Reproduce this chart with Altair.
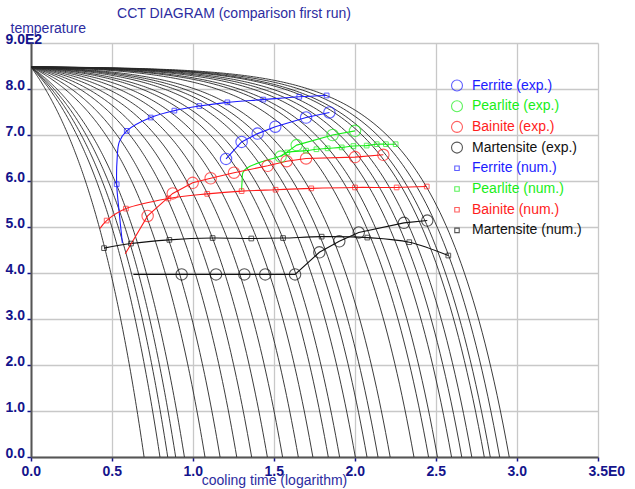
import altair as alt
import pandas as pd
import numpy as np

# ---------------- data ----------------
T_START = 848.0
# x (log cooling time) where each cooling curve reaches 0 degC
curve_end_x = [0.698, 0.796, 0.844, 0.893, 0.947, 1.074, 1.167, 1.270, 1.362, 1.459,
               1.553, 1.650, 1.740, 1.835, 1.905, 2.002, 2.074, 2.142, 2.217, 2.364,
               2.454, 2.509, 2.596, 2.659, 2.721, 2.798, 2.835, 2.893, 2.952]

# Ferrite
fer_exp_x = [1.204, 1.300, 1.399, 1.508, 1.698, 1.842]
fer_exp_t = [648, 685, 703, 718, 738, 749]
fer_num_x = [0.529, 0.591, 0.739, 0.885, 1.039, 1.212, 1.434, 1.656, 1.825]
fer_num_t = [593, 709, 738, 753, 763, 771, 777, 783, 786]
fer_line_x = [0.564, 0.545, 0.529, 0.532, 0.545, 0.591, 0.739, 0.885, 1.039, 1.212, 1.434, 1.656, 1.825]
fer_line_t = [465, 530, 593, 650, 685, 709, 738, 753, 763, 771, 777, 783, 786]

# Pearlite
per_exp_x = [1.541, 1.640, 1.862, 2.000]
per_exp_t = [653, 678, 700, 709]
per_num_x = [1.582, 1.698, 1.762, 1.831, 1.918, 1.990, 2.072, 2.134, 2.191, 2.251]
per_num_t = [662, 666, 669, 671, 673, 676, 677, 680, 680, 680]
per_line_x = [1.300, 1.303, 1.307, 1.322, 1.352, 1.434, 1.537, 1.582, 1.698, 1.762, 1.831,
              1.918, 1.990, 2.072, 2.134, 2.191, 2.251]
per_line_t = [580, 600, 617, 625, 632, 643, 654, 662, 666, 669, 671, 673, 676, 677, 680, 680, 680]

# Bainite
bai_exp_x = [0.720, 0.875, 0.998, 1.109, 1.253, 1.461, 1.578, 1.698, 2.000, 2.175]
bai_exp_t = [524, 573, 596, 606, 618, 633, 643, 649, 652, 657]
bai_exp_line_x = [0.582] + bai_exp_x
bai_exp_line_t = [442] + bai_exp_t
bai_num_x = [0.467, 0.586, 0.848, 1.088, 1.300, 1.510, 1.730, 2.000, 2.257, 2.443]
bai_num_t = [514, 540, 562, 572, 578, 581, 584, 586, 586, 588]
bai_num_line_x = [0.426] + bai_num_x
bai_num_line_t = [497] + bai_num_t

# Martensite
mar_exp_x = [0.930, 1.142, 1.317, 1.446, 1.630, 1.780, 1.903, 2.023, 2.302, 2.446]
mar_exp_t = [397, 397, 397, 397, 397, 445, 469, 488, 509, 514]
mar_exp_line_x = [0.632] + mar_exp_x
mar_exp_line_t = [397] + mar_exp_t
mar_num_x = [0.451, 0.617, 0.854, 1.121, 1.360, 1.556, 1.794, 2.076, 2.335, 2.576]
mar_num_t = [454, 464, 472, 476, 475, 476, 479, 477, 467, 438]

legend_labels = ["Ferrite (exp.)", "Pearlite (exp.)", "Bainite (exp.)", "Martensite (exp.)",
                 "Ferrite (num.)", "Pearlite (num.)", "Bainite (num.)", "Martensite (num.)"]
title_text = ["CCT DIAGRAM (comparison first run)"]

BLUE, GREEN, RED, BLACK = "#1c1cff", "#18ee18", "#ff1c1c", "#111111"
NAVY = "#14148c"
TITLE_BLUE = "#2c2ca0"
FONT = "Liberation Sans"
FS = 14

# ---------------- tables ----------------
rows = []
for i, xe in enumerate(curve_end_x):
    rate = T_START / (10 ** xe - 1.0)          # linear cooling in time, drawn on log axis
    xs = np.linspace(0, xe, 160)
    ts = T_START - rate * (10 ** xs - 1.0)
    ts[-1] = 0.0
    for k, (a, b) in enumerate(zip(xs, ts)):
        rows.append({"curve": i, "k": k, "x": float(a), "t": float(max(b, 0.0))})
curves = pd.DataFrame(rows)


def line_df(name, xs, ts):
    return pd.DataFrame({"s": name, "k": range(len(xs)), "x": xs, "t": ts})


lines_smooth = pd.concat([
    line_df("fer_num", fer_line_x, fer_line_t),
    line_df("per_num", per_line_x, per_line_t),
    line_df("bai_num", bai_num_line_x, bai_num_line_t),
    line_df("mar_num", mar_num_x, mar_num_t),
])
lines_straight = pd.concat([
    line_df("fer_exp", fer_exp_x, fer_exp_t),
    line_df("per_exp", per_exp_x, per_exp_t),
    line_df("bai_exp", bai_exp_line_x, bai_exp_line_t),
    line_df("mar_exp", mar_exp_line_x, mar_exp_line_t),
])
series_names = ["fer_exp", "per_exp", "bai_exp", "mar_exp", "fer_num", "per_num", "bai_num", "mar_num"]
series_colors = [BLUE, GREEN, RED, BLACK, BLUE, GREEN, RED, BLACK]

circles = pd.concat([
    line_df("fer_exp", fer_exp_x, fer_exp_t),
    line_df("per_exp", per_exp_x, per_exp_t),
    line_df("bai_exp", bai_exp_x, bai_exp_t),
    line_df("mar_exp", mar_exp_x, mar_exp_t),
])
squares = pd.concat([
    line_df("fer_num", fer_num_x, fer_num_t),
    line_df("per_num", per_num_x, per_num_t),
    line_df("bai_num", bai_num_x, bai_num_t),
    line_df("mar_num", mar_num_x, mar_num_t),
])

legend_df = pd.DataFrame({
    "label": legend_labels,
    "row": list(range(8)),
    "s": series_names,
    "shape": ["circle"] * 4 + ["square"] * 4,
})

# ---------------- chart ----------------
xscale = alt.Scale(domain=[0, 3.5], nice=False, zero=False)
yscale = alt.Scale(domain=[0, 900], nice=False)
cscale = alt.Scale(domain=series_names, range=series_colors)

xaxis = alt.Axis(values=[0, 0.5, 1, 1.5, 2, 2.5, 3, 3.5],
                 labelExpr="datum.value == 3.5 ? '3.5E0' : format(datum.value, '.1f')",
                 labelAlign="left", labelOffset=-10, labelBaseline="alphabetic", labelPadding=14,
                 labelFont=FONT, labelFontSize=FS, labelFontWeight="bold", labelColor=NAVY,
                 tickSize=4, tickColor=NAVY, tickWidth=1.5,
                 domainColor="#555555", domainWidth=2,
                 grid=True, gridColor="#c8c8c8", gridWidth=1.3,
                 title="cooling time (logarithm)", titleFont=FONT, titleFontSize=FS,
                 titleFontWeight="normal", titleColor=TITLE_BLUE,
                 titleX=243, titleY=27, titleAlign="center", titleBaseline="alphabetic")
yaxis = alt.Axis(values=[0, 100, 200, 300, 400, 500, 600, 700, 800, 900],
                 labelExpr="datum.value == 900 ? '9.0E2' : format(datum.value / 100, '.1f')",
                 labelAlign="left", labelBaseline="alphabetic", labelPadding=22,
                 labelFont=FONT, labelFontSize=FS, labelFontWeight="bold", labelColor=NAVY,
                 tickSize=4, tickColor=NAVY, tickWidth=1.5,
                 domainColor="#555555", domainWidth=2,
                 grid=True, gridColor="#c8c8c8", gridWidth=1.3,
                 title="temperature", titleFont=FONT, titleFontSize=FS,
                 titleFontWeight="normal", titleColor=TITLE_BLUE, titleAngle=0,
                 titleX=-21, titleY=-11, titleAlign="left", titleBaseline="alphabetic")

base_curves = alt.Chart(curves).mark_line(color="#262626", strokeWidth=0.9, clip=True).encode(
    x=alt.X("x:Q", scale=xscale, axis=xaxis),
    y=alt.Y("t:Q", scale=yscale, axis=yaxis),
    detail="curve:N",
    order="k:Q",
)

smooth = alt.Chart(lines_smooth).mark_line(strokeWidth=1.1, interpolate="catmull-rom").encode(
    x=alt.X("x:Q", scale=xscale),
    y=alt.Y("t:Q", scale=yscale),
    color=alt.Color("s:N", scale=cscale, legend=None),
    detail="s:N",
    order="k:Q",
)
straight = alt.Chart(lines_straight).mark_line(strokeWidth=1.1).encode(
    x=alt.X("x:Q", scale=xscale),
    y=alt.Y("t:Q", scale=yscale),
    color=alt.Color("s:N", scale=cscale, legend=None),
    detail="s:N",
    order="k:Q",
)
circ = alt.Chart(circles).mark_point(shape="circle", filled=False, size=130, strokeWidth=1.1).encode(
    x=alt.X("x:Q", scale=xscale),
    y=alt.Y("t:Q", scale=yscale),
    color=alt.Color("s:N", scale=cscale, legend=None),
)
sq = alt.Chart(squares).mark_point(shape="square", filled=False, size=22, strokeWidth=1).encode(
    x=alt.X("x:Q", scale=xscale),
    y=alt.Y("t:Q", scale=yscale),
    color=alt.Color("s:N", scale=cscale, legend=None),
)

leg_base = alt.Chart(legend_df).transform_calculate(py="42.5 + datum.row * 20.7")
leg_sym = leg_base.mark_point(filled=False, strokeWidth=1.1).encode(
    x=alt.value(426),
    y=alt.Y("py:Q", scale=None),
    shape=alt.Shape("shape:N", scale=alt.Scale(domain=["circle", "square"], range=["circle", "square"]), legend=None),
    size=alt.Size("shape:N", scale=alt.Scale(domain=["circle", "square"], range=[120, 20]), legend=None),
    color=alt.Color("s:N", scale=cscale, legend=None),
)
leg_txt = leg_base.mark_text(align="left", baseline="middle", font=FONT, fontSize=FS, dx=0).encode(
    x=alt.value(441),
    y=alt.Y("py:Q", scale=None),
    text="label:N",
    color=alt.Color("s:N", scale=cscale, legend=None),
)

title_layer = alt.Chart(pd.DataFrame({"title": title_text})).mark_text(
    align="center", baseline="alphabetic", font=FONT, fontSize=FS, color=TITLE_BLUE
).encode(
    x=alt.value(203),
    y=alt.value(-25),
    text="title:N",
)

chart = alt.layer(base_curves, smooth, straight, circ, sq, leg_sym, leg_txt, title_layer).properties(
    width=567, height=414,
    autosize=alt.AutoSizeParams(type="none"),
    padding={"left": 31, "top": 43, "right": 37, "bottom": 32},
    background="white",
).configure_view(stroke=None)

chart.save("out.html", embed_options={"renderer": "svg", "actions": False})
